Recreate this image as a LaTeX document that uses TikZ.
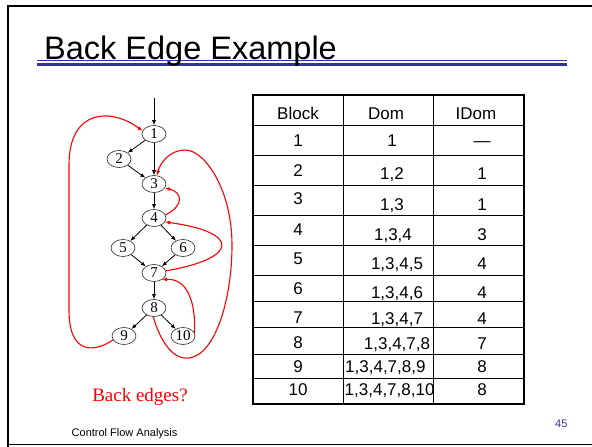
\documentclass[tikz,border=0pt]{standalone}
\usepackage{fontspec}
\setmainfont{Liberation Serif}
\setsansfont{Liberation Sans}
\usetikzlibrary{shapes.geometric, arrows.meta, positioning}
\definecolor{slideblue}{RGB}{51,51,153}
\definecolor{backred}{RGB}{255,0,0}
\tikzset{
  blk/.style={ellipse, draw=black!85, line width=0.6pt,
    minimum width=24pt, minimum height=17pt, inner sep=0pt,
    font=\fontsize{15}{15}\selectfont},
  flow/.style={-{Latex[length=5pt,width=4pt]}, line width=0.8pt},
  backedge/.style={-{Latex[length=5pt,width=4pt]}, line width=1.1pt, color=backred},
  cell/.style={anchor=base, inner sep=0pt, font=\sffamily\fontsize{17}{17}\selectfont},
  grid/.style={line width=1pt},
  frame/.style={line width=2pt}
}

\begin{document}
\begin{tikzpicture}[x=1pt, y=-1pt]
  \useasboundingbox (0,0) rectangle (592,447);

  % --- slide frame and title ---
  \draw[frame] (7.5,447) -- (7.5,6) -- (592,6);
  \draw[line width=0.8pt] (7.5,444) -- (592,444);
  \draw[slideblue, line width=1pt] (37,60) -- (567,60);
  \draw[slideblue, line width=3pt] (37,64.5) -- (567,64.5);
  \node[anchor=base west, inner sep=0pt, font=\sffamily\fontsize{32.5}{32.5}\selectfont]
    (title) at (44,59) {Back Edge Example};

  % --- flow graph ---
  \node[blk] (n1)  at (154,134) {1};
  \node[blk] (n2)  at (119,159) {2};
  \node[blk] (n3)  at (154,184) {3};
  \node[blk] (n4)  at (154,218) {4};
  \node[blk] (n5)  at (123,248) {5};
  \node[blk] (n6)  at (183,248) {6};
  \node[blk] (n7)  at (154,273) {7};
  \node[blk] (n8)  at (154,308) {8};
  \node[blk] (n9)  at (124,336) {9};
  \node[blk] (n10) at (183,336) {10};
  \coordinate (entry) at (154,98);

  \draw[flow] (entry) -- (n1);
  \draw[flow] (n1) -- (n2);
  \draw[flow] (n1) -- (n3);
  \draw[flow] (n2) -- (n3);
  \draw[flow] (n3) -- (n4);
  \draw[flow] (n4) -- (n5);
  \draw[flow] (n4) -- (n6);
  \draw[flow] (n5) -- (n7);
  \draw[flow] (n6) -- (n7);
  \draw[flow] (n7) -- (n8);
  \draw[flow] (n8) -- (n9);
  \draw[flow] (n8) -- (n10);

  % back edges
  \draw[backedge] (n9.200) .. controls (95,352) and (69,356) .. (69,310)
    -- (69,165) .. controls (69,108) and (112,108) .. (n1.165);
  \draw[backedge] (n10.15) .. controls (196,300) and (186,278) .. (n7.-40);
  \draw[backedge] (n7.10) .. controls (240,258) and (240,232) .. (n4.-20);
  \draw[backedge] (n4.15) .. controls (185,205) and (182,192) .. (n3.-20);
  \draw[backedge] (n8.265) .. controls (160,340) and (172,360) .. (189,358)
    .. controls (215,355) and (232,300) .. (232,245)
    .. controls (232,190) and (205,150) .. (185,150)
    .. controls (170,150) and (160,163) .. (n3.70);

  \node[anchor=base, inner sep=0pt, text=backred, font=\fontsize{19}{19}\selectfont]
    (question) at (140,401) {Back edges?};

  % --- dominator table ---
  \draw[grid] (343.5,95) -- (343.5,403.5);
  \draw[grid] (433.5,95) -- (433.5,403.5);
  \foreach \ry in {125,155,185,215.5,245.5,275,301,327.5,354,378}
    \draw[grid] (252.5,\ry) -- (524,\ry);
  \draw[frame] (252.5,95) rectangle (524,403.5);

  \node[cell] (hblock) at (298,119) {Block};
  \node[cell] (hdom)   at (386,119) {Dom};
  \node[cell] (hidom)  at (476,119) {IDom};

  \foreach \b/\yb/\dom/\xd/\yd/\idom in {
      1/146/{1}/392/146/{\textemdash},
      2/176/{1,2}/392/179/{1},
      3/204/{1,3}/392/210/{1},
      4/235/{1,3,4}/393/240.5/{3},
      5/264/{1,3,4,5}/397/269/{4},
      6/294/{1,3,4,6}/397/298/{4},
      7/323/{1,3,4,7}/397/324/{4},
      8/348/{1,3,4,7,8}/397/349/{7}} {
    \node[cell] (blk\b) at (298,\yb) {\b};
    \node[cell] (dom\b) at (\xd,\yd) {\dom};
    \node[cell] (idom\b) at (482,\yd) {\idom};
  }
  \node[cell] (blk9)  at (298,372) {9};
  \node[cell, anchor=base west] (dom9) at (345,372) {1,3,4,7,8,9};
  \node[cell] (idom9) at (482,372) {8};
  \node[cell] (blk10) at (298,395) {10};
  \node[cell, anchor=base west] (dom10) at (344.5,395) {1,3,4,7,8,10};
  \node[cell] (idom10) at (482,395) {8};

  % --- footer ---
  \node[anchor=base west, inner sep=0pt, font=\sffamily\fontsize{11}{11}\selectfont]
    (footer) at (71.5,436) {Control Flow Analysis};
  \node[anchor=base west, inner sep=0pt, text=slideblue, font=\sffamily\fontsize{11}{11}\selectfont]
    (pageno) at (555,427) {45};
\end{tikzpicture}
\end{document}
